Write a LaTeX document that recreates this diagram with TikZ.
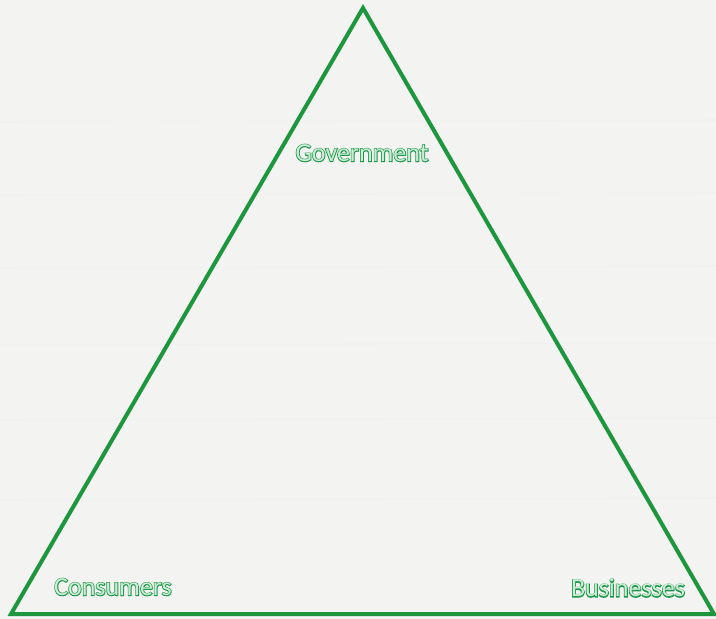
\documentclass[tikz,border=0pt]{standalone}
\usepackage{fontspec}
\setmainfont{Carlito}
\newfontfamily\rimfont[FakeBold=6]{Carlito}
\usetikzlibrary{positioning}
\definecolor{triGreen}{RGB}{30,150,62}
\definecolor{txtGreen}{RGB}{28,150,72}
\definecolor{txtFill}{RGB}{205,236,214}
\definecolor{boardGray}{RGB}{243,243,242}
\newcommand{\outlined}[1]{\makebox[0pt][l]{\rimfont\color{txtGreen}#1}\color{txtFill}#1}
\tikzset{
  actor/.style={font=\fontsize{26}{30}\selectfont, inner sep=0pt, anchor=center},
  side/.style={draw=triGreen, line width=4pt}
}
\begin{document}
\begin{tikzpicture}[x=1pt, y=-1pt, line join=miter, line cap=butt]
  \fill[boardGray] (0,0) rectangle (716,619);
  \useasboundingbox (0,0) rectangle (716,619);
  % faint board lines
  \draw[white!88!gray, line width=.6pt] (0,122)--(716,120) (0,195)--(716,193) (0,268)--(716,266)
    (0,345)--(716,343) (0,420)--(716,418) (0,500)--(716,498);
  \coordinate (top) at (363,8);
  \coordinate (left) at (11,614);
  \coordinate (right) at (714,614);
  \draw[side] (top) -- (right) -- (left) -- cycle;
  \node[actor] (gov) at (362,153) {\outlined{Government}};
  \node[actor] (con) at (113,587) {\outlined{Consumers}};
  \node[actor] (bus) at (628,588) {\outlined{Businesses}};
\end{tikzpicture}
\end{document}
